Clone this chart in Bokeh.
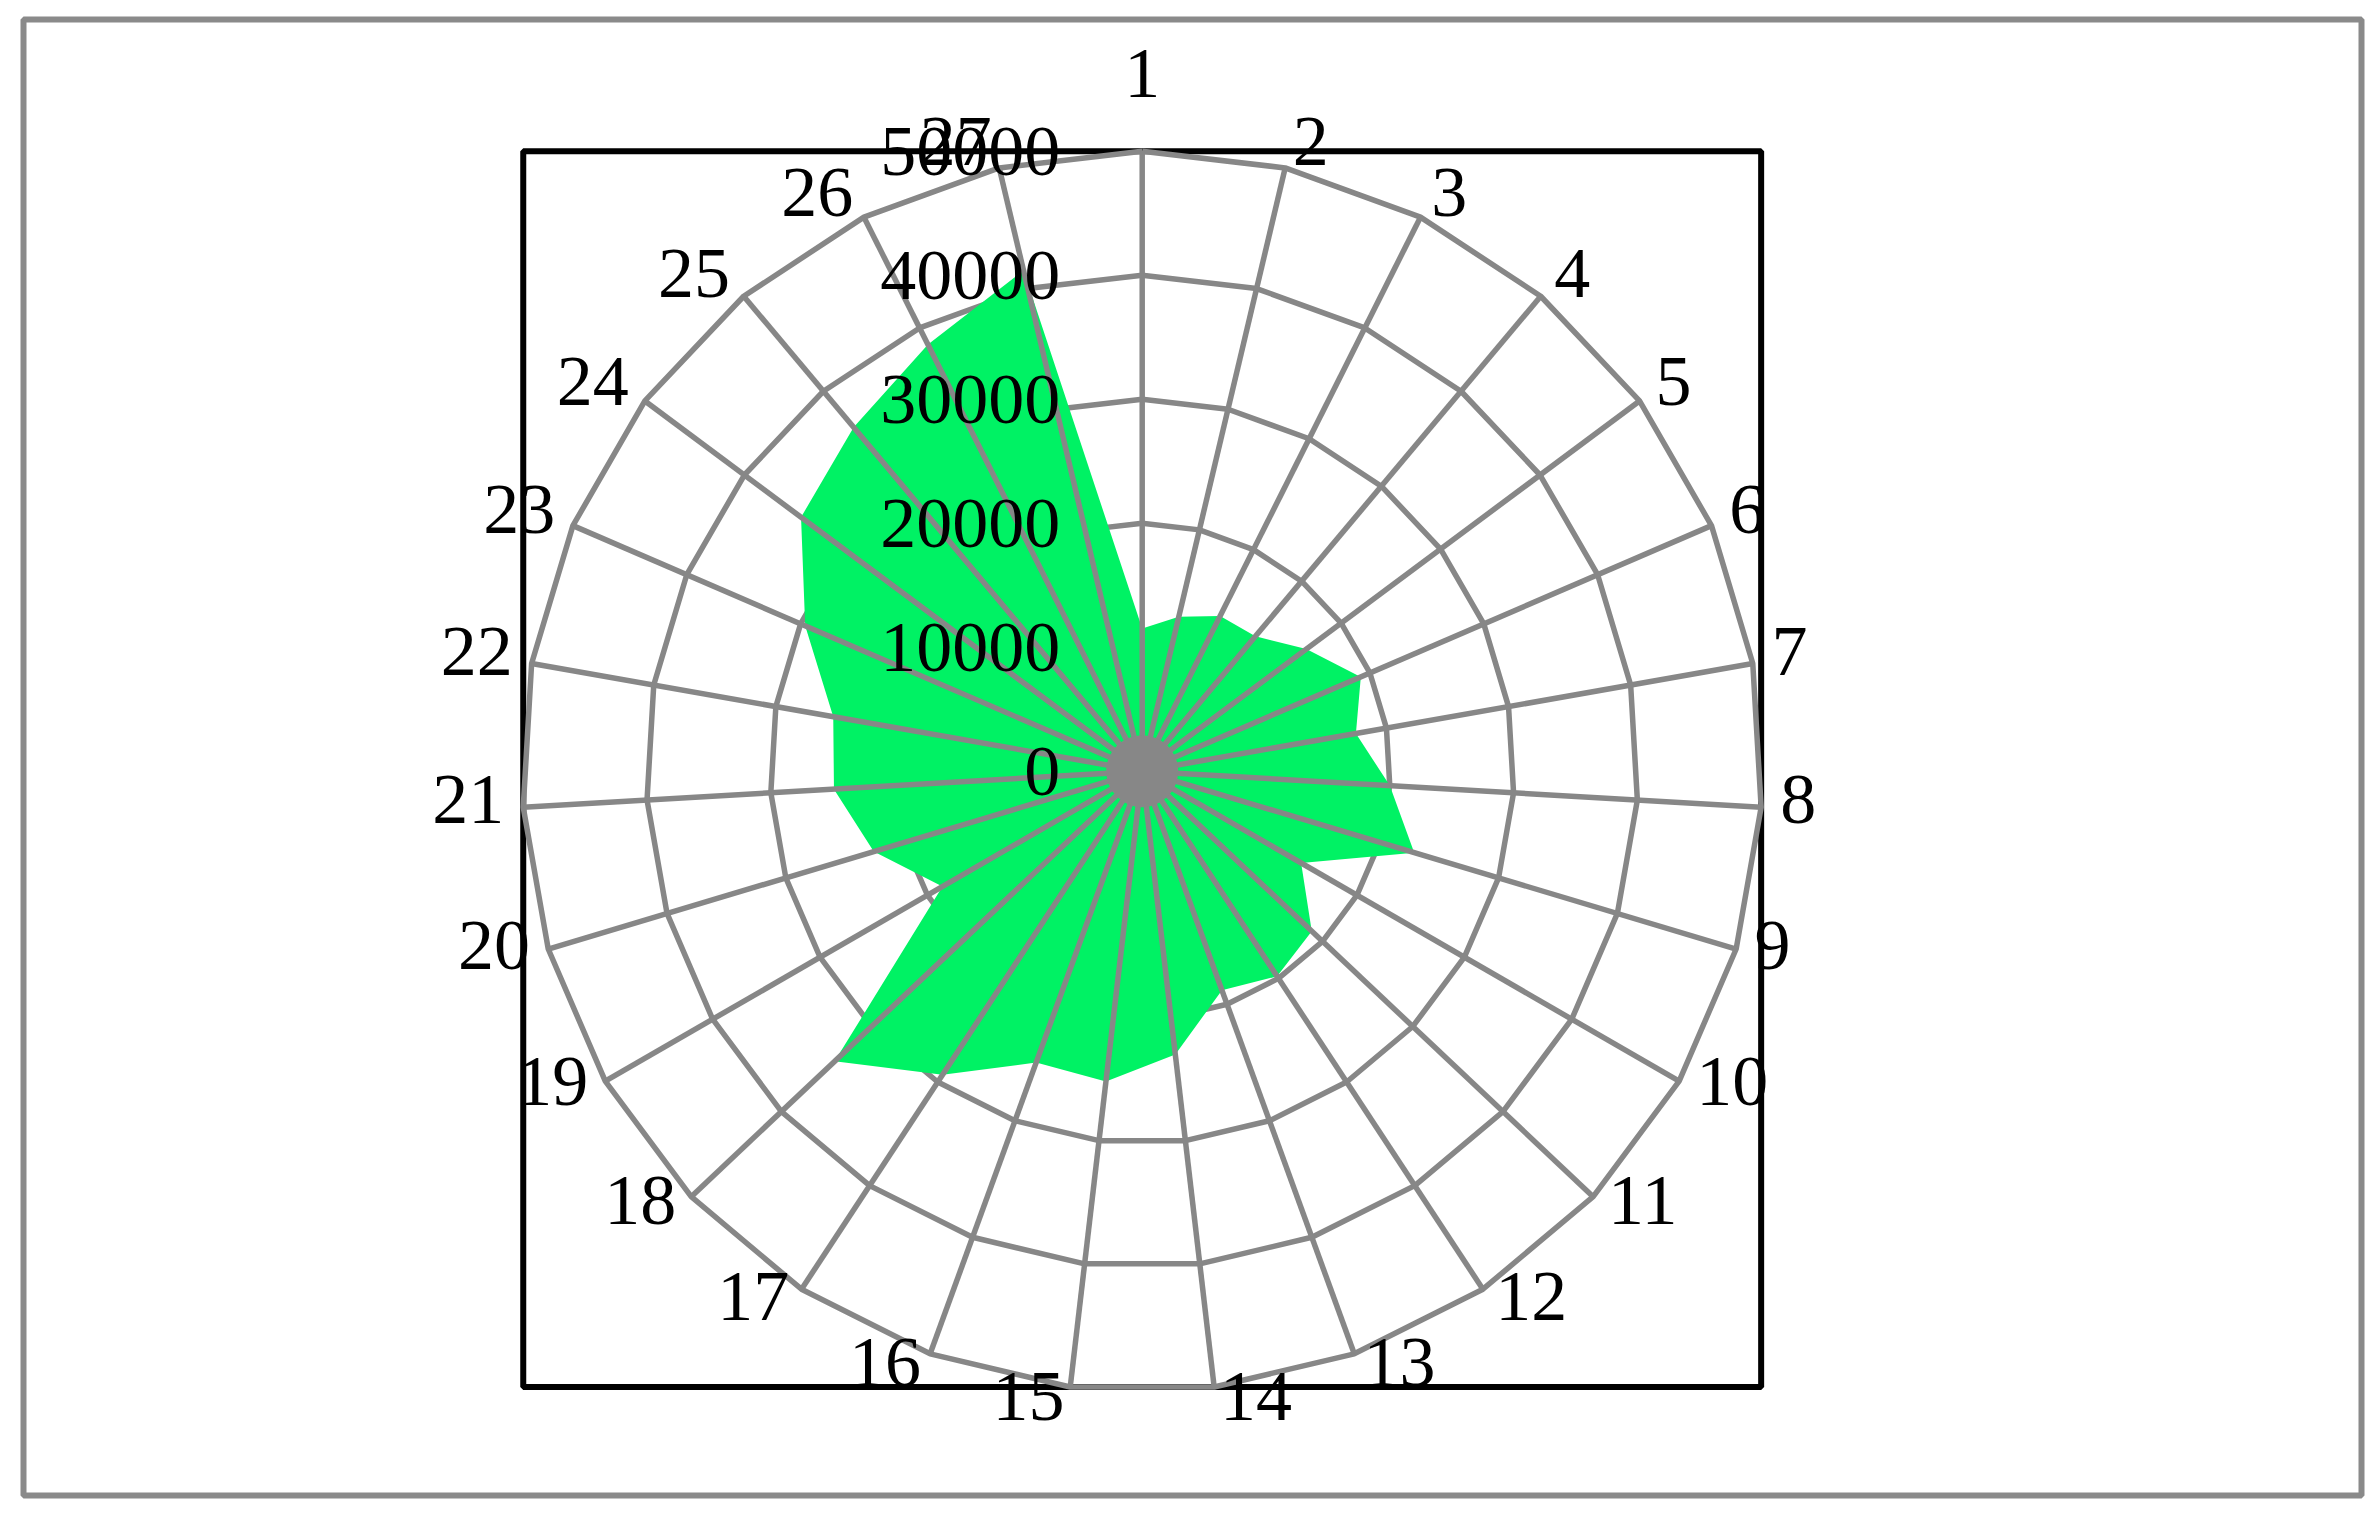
import math
from bokeh.plotting import figure
from bokeh.models import Range1d
from bokeh.core.properties import value
from bokeh.embed import file_html
from bokeh.resources import INLINE

# ---------------- data ----------------
categories = [str(i) for i in range(1, 28)]
values = [11500, 12800, 14000, 14200, 16500, 19200, 17500, 20000, 22900,
          14800, 18800, 19800, 18800, 23000, 25200, 25000, 29300, 34100,
          18600, 22600, 24900, 25300, 29600, 34300, 36200, 38500, 41500]
ring_values = [0, 10000, 20000, 30000, 40000, 50000]
ring_labels = ["0", "10000", "20000", "30000", "40000", "50000"]

# ---------------- geometry ----------------
RMAX = ring_values[-1]
R_PX = 620.0                      # pixel radius of outer ring
K = RMAX / R_PX                   # data units per pixel
FRAME_W, FRAME_H = 2338, 1476
CX_PX, CY_PX = 1118.7, 751.7      # centre offset from frame left / top

n = len(categories)
ang = [2 * math.pi * i / n for i in range(n)]
sn = [math.sin(a) for a in ang]
cs = [math.cos(a) for a in ang]

GRID = "#878787"
FONT = value("Liberation Serif")
FSIZE = "72px"

p = figure(frame_width=FRAME_W, frame_height=FRAME_H,
           x_range=Range1d(-CX_PX * K, (FRAME_W - CX_PX) * K),
           y_range=Range1d(-(FRAME_H - CY_PX) * K, CY_PX * K),
           x_axis_location=None, y_axis_location=None,
           toolbar_location=None, output_backend="svg",
           min_border_left=23, min_border_right=4,
           min_border_top=19, min_border_bottom=8)
p.grid.visible = False
p.background_fill_color = "white"
p.border_fill_color = "white"
p.outline_line_color = "#8a8a8a"
p.outline_line_width = 6

# black square frame bounding the outer ring
rx = [RMAX * s for s in sn]
ry = [RMAX * c for c in cs]
p.quad(left=min(rx), right=max(rx), bottom=min(ry), top=max(ry),
       fill_color=None, line_color="black", line_width=6)

# rings
xs_r, ys_r = [], []
for r in ring_values[1:]:
    xs_r.append([r * s for s in sn] + [r * sn[0]])
    ys_r.append([r * c for c in cs] + [r * cs[0]])
p.multi_line(xs_r, ys_r, line_color=GRID, line_width=5.5)

# data area
px = [v * s for v, s in zip(values, sn)]
py = [v * c for v, c in zip(values, cs)]
p.patch(px, py, fill_color="#00F264", line_color=None)

# spokes
p.segment(x0=[0] * n, y0=[0] * n, x1=rx, y1=ry, line_color=GRID, line_width=5.5)
p.circle(x=[0], y=[0], radius=36 * K, fill_color=GRID, line_color=None)

# value labels
p.text(x=[-82 * K] * len(ring_values), y=ring_values, text=ring_labels,
       text_align="right", text_baseline="middle", text_font=FONT,
       text_font_size=FSIZE, text_color="black")

# category labels
groups = {"left": dict(x=[], y=[], t=[]), "right": dict(x=[], y=[], t=[]),
          "center": dict(x=[], y=[], t=[])}
for i, lab in enumerate(categories):
    s, c = sn[i], cs[i]
    if abs(s) < 0.01:
        g = "center"
        x = 0.0
        y = RMAX * c + (78 if c > 0 else -40) * K
    else:
        pad = 4 + 15 * abs(s)
        g = "left" if s > 0 else "right"
        x = RMAX * s + (pad if s > 0 else -pad) * K
        y = RMAX * c + (8.5 + 18.5 * c) * K
    groups[g]["x"].append(x)
    groups[g]["y"].append(y)
    groups[g]["t"].append(lab)
for g, d in groups.items():
    if d["t"]:
        p.text(x=d["x"], y=d["y"], text=d["t"], text_align=g,
               text_baseline="middle", text_font=FONT,
               text_font_size=FSIZE, text_color="black")

open("out.html", "w").write(file_html(p, INLINE))
